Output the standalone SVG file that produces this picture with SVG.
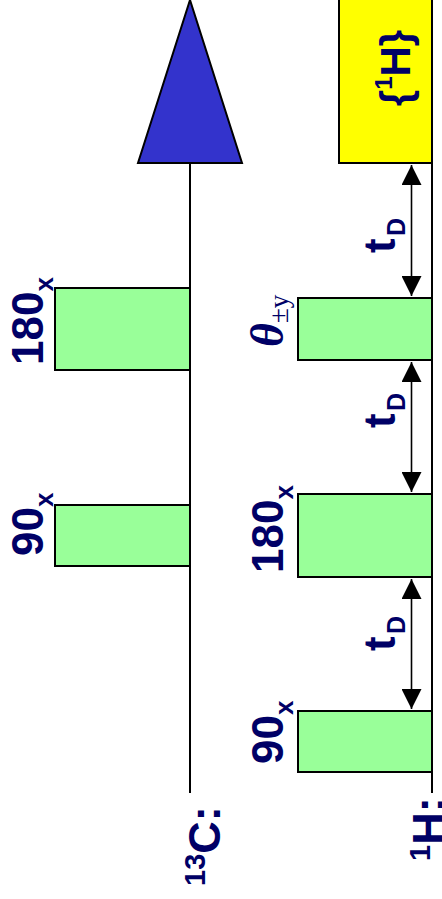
<svg xmlns="http://www.w3.org/2000/svg" width="442" height="899" viewBox="0 0 442 899">
  <style>
    .axis { stroke: #000; stroke-width: 2; fill: none; }
    .pulse { fill: #99FF99; stroke: #000; stroke-width: 2; }
    .decouple { fill: #FFFF00; stroke: #000; stroke-width: 2; }
    .acq { fill: #3333CC; stroke: #000; stroke-width: 2; stroke-linejoin: miter; }
    .delay { stroke: #000; stroke-width: 1.6; fill: none; marker-start: url(#head); marker-end: url(#head); }
    .lbl { font-family: "Liberation Sans", Arial, sans-serif; font-weight: bold; fill: #000066; font-size: 44px; }
    .sub { font-size: 26px; }
    .sup { font-size: 29px; }
    .greek { font-family: "Liberation Serif", "Times New Roman", serif; font-style: italic; font-weight: bold; fill: #000066; font-size: 46px; }
    .gsub { font-family: "Liberation Serif", "Times New Roman", serif; font-style: normal; font-weight: normal; font-size: 27px; }
  </style>
  <defs>
    <marker id="head" markerUnits="userSpaceOnUse" markerWidth="20" markerHeight="20" viewBox="0 0 20 20" refX="20" refY="10" orient="auto-start-reverse">
      <path d="M0,0 L20,10 L0,20 z" fill="#000"/>
    </marker>
  </defs>

  <!-- channel axes -->
  <g id="axes">
    <line class="axis" x1="190" y1="163" x2="190" y2="793"/>
    <line class="axis" x1="432" y1="0" x2="432" y2="793"/>
  </g>

  <!-- 13C channel -->
  <g id="c-acquisition">
    <polygon class="acq" points="190,0 138,163 242,163"/>
  </g>
  <g id="c-pulse-180">
    <rect class="pulse" x="55" y="288" width="135" height="82"/>
    <text class="lbl" transform="translate(43,365) rotate(-90)">180<tspan class="sub" y="10">x</tspan></text>
  </g>
  <g id="c-pulse-90">
    <rect class="pulse" x="55" y="505" width="135" height="61"/>
    <text class="lbl" transform="translate(43,556) rotate(-90)">90<tspan class="sub" y="10">x</tspan></text>
  </g>
  <g id="c-label">
    <text class="lbl" transform="translate(220,886) rotate(-90)"><tspan class="sup" y="-15">13</tspan><tspan y="0" style="font-size:45px">C:</tspan></text>
  </g>

  <!-- 1H channel -->
  <g id="h-decoupling">
    <rect class="decouple" x="339" y="-2" width="93" height="165"/>
    <text class="lbl" transform="translate(410,68) rotate(-90)" text-anchor="middle" style="font-size:42px">{<tspan style="font-size:24px" dy="-18">1</tspan><tspan dy="18">H}</tspan></text>
  </g>
  <g id="h-pulse-theta">
    <rect class="pulse" x="298" y="298" width="134" height="62"/>
    <text class="greek" transform="translate(283,347) rotate(-90)">θ<tspan class="gsub" y="5">±y</tspan></text>
  </g>
  <g id="h-pulse-180">
    <rect class="pulse" x="298" y="494" width="134" height="83"/>
    <text class="lbl" transform="translate(283,573) rotate(-90)">180<tspan class="sub" y="10">x</tspan></text>
  </g>
  <g id="h-pulse-90">
    <rect class="pulse" x="298" y="711" width="134" height="61"/>
    <text class="lbl" transform="translate(283,764) rotate(-90)">90<tspan class="sub" y="10">x</tspan></text>
  </g>
  <g id="h-label">
    <text class="lbl" transform="translate(444,861) rotate(-90)"><tspan class="sup" y="-14">1</tspan><tspan y="0" style="font-size:45px">H:</tspan></text>
  </g>

  <!-- delay intervals -->
  <g id="delays">
    <line class="delay" x1="411.5" y1="296" x2="411.5" y2="165"/>
    <line class="delay" x1="411.5" y1="492" x2="411.5" y2="362"/>
    <line class="delay" x1="411.5" y1="709" x2="411.5" y2="579"/>
  </g>
  <g id="delay-labels">
    <text class="lbl" transform="translate(395,253) rotate(-90)">t<tspan style="font-size:25px" x="17" y="10">D</tspan></text>
    <text class="lbl" transform="translate(395,428) rotate(-90)">t<tspan style="font-size:25px" x="17" y="10">D</tspan></text>
    <text class="lbl" transform="translate(395,651) rotate(-90)">t<tspan style="font-size:25px" x="17" y="10">D</tspan></text>
  </g>
</svg>
